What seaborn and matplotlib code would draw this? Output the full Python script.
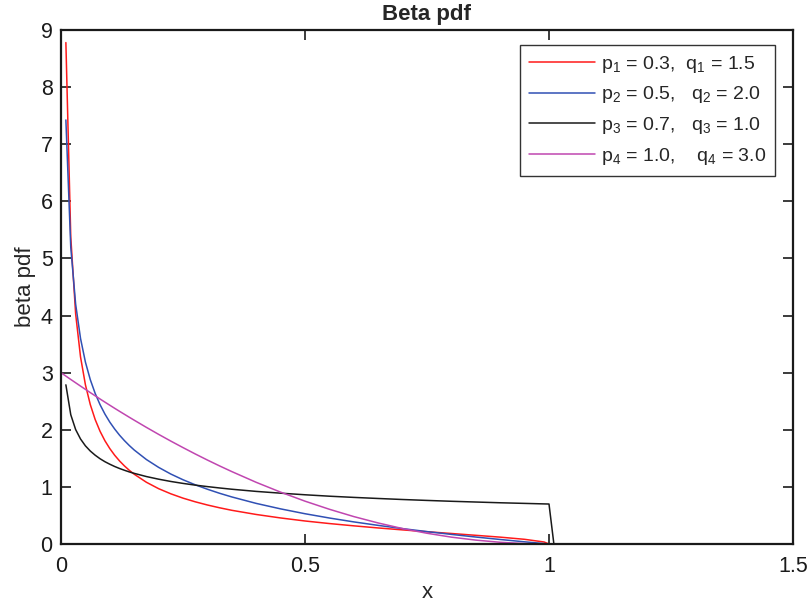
import numpy as np
import pandas as pd
import matplotlib
matplotlib.use("Agg")
import matplotlib.pyplot as plt
import seaborn as sns

# x positions at which values were read
x_vals = [0.00, 0.01, 0.02, 0.03, 0.04, 0.05, 0.06, 0.07, 0.08, 0.09, 0.10,
          0.11, 0.12, 0.13, 0.14, 0.15, 0.175, 0.20, 0.225, 0.25, 0.275, 0.30,
          0.325, 0.35, 0.40, 0.45, 0.50, 0.55, 0.60, 0.65, 0.70,
          0.75, 0.80, 0.85, 0.90, 0.95, 0.99, 1.00, 1.01, 1.50]

pdf_1 = [np.nan, 8.780, 5.378, 4.029, 3.277, 2.789, 2.442, 2.180, 1.974, 1.808, 1.671,
         1.554, 1.454, 1.367, 1.290, 1.222, 1.081, 0.969, 0.879, 0.803, 0.739, 0.683,
         0.634, 0.590, 0.517, 0.456, 0.403, 0.358, 0.318, 0.281, 0.247,
         0.215, 0.184, 0.152, 0.120, 0.082, 0.035, 0.0, 0.0, 0.0]
pdf_2 = [np.nan, 7.425, 5.197, 4.200, 3.600, 3.186, 2.878, 2.637, 2.440, 2.275, 2.134,
         2.013, 1.905, 1.810, 1.724, 1.646, 1.479, 1.342, 1.225, 1.125, 1.037, 0.959,
         0.888, 0.824, 0.711, 0.615, 0.530, 0.455, 0.387, 0.326, 0.269,
         0.217, 0.168, 0.122, 0.079, 0.038, 0.0075, 0.0, 0.0, 0.0]
pdf_3 = [np.nan, 2.787, 2.264, 2.004, 1.839, 1.719, 1.628, 1.555, 1.493, 1.441, 1.397,
         1.357, 1.322, 1.291, 1.262, 1.237, 1.181, 1.135, 1.095, 1.061, 1.031, 1.005,
         0.981, 0.959, 0.921, 0.890, 0.862, 0.837, 0.816, 0.797, 0.779,
         0.763, 0.748, 0.735, 0.722, 0.711, 0.702, 0.700, 0.0, 0.0]
pdf_4 = [3.000, 2.940, 2.881, 2.823, 2.765, 2.708, 2.651, 2.595, 2.539, 2.484, 2.430,
         2.376, 2.323, 2.271, 2.219, 2.168, 2.042, 1.920, 1.802, 1.688, 1.577, 1.470,
         1.367, 1.268, 1.080, 0.908, 0.750, 0.608, 0.480, 0.368, 0.270,
         0.188, 0.120, 0.068, 0.030, 0.0075, 0.0003, 0.0, 0.0, 0.0]

labels = ["p$_1$ = 0.3,  q$_1$ = 1.5",
          "p$_2$ = 0.5,   q$_2$ = 2.0",
          "p$_3$ = 0.7,   q$_3$ = 1.0",
          "p$_4$ = 1.0,    q$_4$ = 3.0"]
colors = ["#FF1A1A", "#3050B4", "#1A1A1A", "#C046B0"]

x_ticks = [0, 0.5, 1, 1.5]
x_ticklabels = ["0", "0.5", "1", "1.5"]
y_ticks = list(range(0, 10))

sns.set_theme(style="white")
plt.rcParams["font.family"] = ["Liberation Sans", "DejaVu Sans"]
plt.rcParams["mathtext.fontset"] = "custom"
plt.rcParams["mathtext.rm"] = "Liberation Sans"
plt.rcParams["mathtext.it"] = "Liberation Sans"
plt.rcParams["mathtext.default"] = "regular"

fig = plt.figure(figsize=(8.10, 6.06), dpi=100)
ax = fig.add_axes([61 / 810, 1 - 544 / 606, (793 - 61) / 810, (544 - 30) / 606])

for ys, lab, col in zip([pdf_1, pdf_2, pdf_3, pdf_4], labels, colors):
    df = pd.DataFrame({"x": x_vals, "y": ys}).dropna()
    sns.lineplot(data=df, x="x", y="y", ax=ax, color=col, label=lab,
                 linewidth=1.1, estimator=None, sort=False)

ax.set_xlim(0, 1.5)
ax.set_ylim(0, 9)
ax.set_xticks(x_ticks)
ax.set_xticklabels(x_ticklabels)
ax.set_yticks(y_ticks)
ax.tick_params(direction="in", length=7, width=1.2, top=True, right=True,
               bottom=True, left=True, labelsize=15.5, colors="#1a1a1a")
ax.tick_params(axis="x", pad=9)
ax.tick_params(axis="y", pad=6)
for s in ax.spines.values():
    s.set_linewidth(1.6)
    s.set_color("#1a1a1a")
    s.set_visible(True)

ax.set_xlabel("x", fontsize=16, labelpad=3)
ax.set_ylabel("beta pdf", fontsize=16, labelpad=3)
ax.set_title("Beta pdf", fontsize=16, fontweight="bold", pad=7)

leg = ax.legend(loc="upper right", bbox_to_anchor=(0.976, 0.971), borderaxespad=0,
                fontsize=14, handlelength=3.4, handletextpad=0.35,
                labelspacing=0.5, fancybox=False, framealpha=1,
                edgecolor="#333333", borderpad=0.45)
leg.get_frame().set_linewidth(1.0)

fig.savefig("out.png", dpi=100)
